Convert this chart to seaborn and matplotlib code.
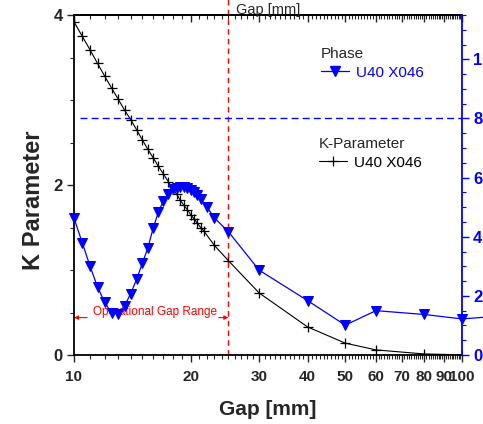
import matplotlib
matplotlib.use("Agg")
import matplotlib.pyplot as plt
import seaborn as sns
import pandas as pd
from matplotlib.lines import Line2D
from matplotlib.ticker import FixedLocator, NullFormatter

# K-parameter of U40 X046 vs gap
gap_k = [10, 10.5, 11, 11.5, 12, 12.5, 13, 13.5, 14, 14.5, 15, 15.5, 16, 16.5,
         17, 17.5, 18, 18.4, 18.8, 19.2, 19.6, 20.0, 20.4, 20.8, 21.2, 21.6,
         23, 25, 30, 40, 50, 60, 80, 100]
k_param = [3.92, 3.75, 3.59, 3.43, 3.28, 3.14, 3.01, 2.88, 2.77, 2.65, 2.53, 2.42,
           2.32, 2.22, 2.13, 2.04, 1.95, 1.89, 1.82, 1.76, 1.71, 1.65, 1.60, 1.55,
           1.50, 1.46, 1.29, 1.11, 0.73, 0.33, 0.14, 0.06, 0.012, 0.003]

# phase of U40 X046 vs gap (right axis)
gap_ph = [10, 10.5, 11, 11.5, 12, 12.5, 13, 13.5, 14, 14.5, 15, 15.5, 16, 16.5,
          17, 17.5, 18, 18.4, 18.8, 19.2, 19.6, 20.0, 20.4, 20.8, 21.2, 22,
          23, 25, 30, 40, 50, 60, 80, 100, 120]
phase = [4.63, 3.80, 3.00, 2.30, 1.78, 1.42, 1.40, 1.66, 2.08, 2.56, 3.10, 3.62,
         4.30, 4.83, 5.22, 5.45, 5.60, 5.65, 5.67, 5.67, 5.64, 5.58, 5.50, 5.40,
         5.27, 5.01, 4.64, 4.17, 2.87, 1.84, 1.01, 1.50, 1.37, 1.22, 1.30]

x_major = [10, 20, 30, 40, 50, 60, 70, 80, 90, 100]
x_minor = [v for v in range(11, 100) if v % 10]
k_ticks = [0, 2, 4]
k_minor = [0.5, 1, 1.5, 2.5, 3, 3.5]
ph_ticks = [0, 2, 4, 6, 8, 10]
ph_minor = [v / 2 for v in range(1, 24) if v % 4]

sns.set_style("ticks")
plt.rcParams["font.family"] = ["Liberation Sans", "DejaVu Sans"]

fig = plt.figure(figsize=(4.83, 4.24), dpi=100)
ax = fig.add_axes([74 / 483, 69 / 424, 388 / 483, 340 / 424])
ax2 = ax.twinx()

df_k = pd.DataFrame({"gap": gap_k, "k": k_param})
df_ph = pd.DataFrame({"gap": gap_ph, "phase": phase})

sns.lineplot(data=df_k, x="gap", y="k", ax=ax, color="black", lw=0.8,
             marker="+", markersize=7, mec="black", mew=0.9, errorbar=None)
sns.lineplot(data=df_ph, x="gap", y="phase", ax=ax2, color="blue", lw=0.9,
             marker="v", markersize=7, mec="blue", mfc="blue", errorbar=None,
             clip_on=False)

ax.set_xscale("log")
ax.set_xlim(10, 100)
ax.set_ylim(0, 4)
ax2.set_ylim(0, 11.5)

# bottom axis
ax.xaxis.set_major_locator(FixedLocator(x_major))
ax.xaxis.set_minor_locator(FixedLocator(x_minor))
ax.xaxis.set_minor_formatter(NullFormatter())
ax.set_xticks(x_major, labels=[str(v) for v in x_major], fontweight="bold", fontsize=11)
ax.tick_params(axis="x", which="major", direction="out", length=5, width=1, pad=6)
ax.tick_params(axis="x", which="minor", direction="out", length=3, width=0.8)

# top axis, ticks only
sec = ax.secondary_xaxis("top")
sec.xaxis.set_major_locator(FixedLocator(x_major))
sec.xaxis.set_minor_locator(FixedLocator(x_minor))
sec.xaxis.set_major_formatter(NullFormatter())
sec.xaxis.set_minor_formatter(NullFormatter())
sec.tick_params(which="major", direction="in", length=5, width=1)
sec.tick_params(which="minor", direction="in", length=3, width=0.8)
sec.spines["top"].set_linewidth(1.3)
sec.spines["top"].set_color("black")
fig.text(268 / 483, 1 - 14 / 424, "Gap [mm]", ha="center", va="baseline", fontsize=10.5)

# left axis
ax.set_yticks(k_ticks, labels=[str(v) for v in k_ticks], fontweight="bold", fontsize=12)
ax.yaxis.set_minor_locator(FixedLocator(k_minor))
ax.tick_params(axis="y", which="major", direction="out", length=5, width=1, pad=3)
ax.tick_params(axis="y", which="minor", direction="out", length=3, width=0.8)

# right axis
ax2.set_yticks(ph_ticks, labels=[str(v) for v in ph_ticks], fontweight="bold",
               fontsize=12, color="blue")
ax2.yaxis.set_minor_locator(FixedLocator(ph_minor))
ax2.tick_params(axis="y", which="major", direction="out", length=5, width=1, pad=3, colors="blue")
ax2.tick_params(axis="y", which="minor", direction="out", length=3, width=0.8, colors="blue")
ax2.set_ylabel("")

for s in ["left", "bottom", "top"]:
    ax.spines[s].set_color("black")
    ax.spines[s].set_linewidth(1.3)
    ax2.spines[s].set_visible(False)
ax.spines["right"].set_visible(False)
ax2.spines["right"].set_color("blue")
ax2.spines["right"].set_linewidth(1.3)

ax.set_xlabel("Gap [mm]", fontsize=15, fontweight="bold")
ax.xaxis.set_label_coords(0.5, -0.132)
ax.set_ylabel("K Parameter", fontsize=17, fontweight="bold")
ax.yaxis.set_label_coords(-0.075, 0.456)

# operational range markers
ax.axvline(25, ymin=0, ymax=1.06, color="red", lw=1, ls=(0, (4, 3)), clip_on=False)
ax2.axhline(8, xmin=0.015, xmax=1, color="blue", lw=1, ls=(0, (5, 3)))
arrow = dict(arrowstyle="-|>", color="red", lw=0.8, mutation_scale=6, shrinkA=0, shrinkB=0)
ax.annotate("", xy=(10, 0.44), xytext=(10.8, 0.44), arrowprops=arrow)
ax.annotate("", xy=(25, 0.44), xytext=(23.6, 0.44), arrowprops=arrow)
ax.text(16.2, 0.51, "Operational Gap Range", color="red", fontsize=8.5, ha="center", va="center")

# legends
h_ph = Line2D([], [], color="blue", lw=0.9, marker="v", markersize=7, mfc="blue", mec="blue")
h_k = Line2D([], [], color="black", lw=0.8, marker="+", markersize=7, mec="black", mew=0.9)
leg1 = ax2.legend([h_ph], ["U40 X046"], title="Phase", loc="upper left",
                  bbox_to_anchor=(321 / 483, 1 - 47 / 424), bbox_transform=fig.transFigure,
                  frameon=False, fontsize=11, title_fontsize=11, labelcolor="blue",
                  alignment="left", handlelength=1.8, handletextpad=0.5,
                  labelspacing=0.3, borderpad=0, borderaxespad=0)
ax2.add_artist(leg1)
ax2.legend([h_k], ["U40 X046"], title="K-Parameter", loc="upper left",
           bbox_to_anchor=(319 / 483, 1 - 137 / 424), bbox_transform=fig.transFigure,
           frameon=False, fontsize=11, title_fontsize=11, labelcolor="black",
           alignment="left", handlelength=1.8, handletextpad=0.5,
           labelspacing=0.3, borderpad=0, borderaxespad=0)

fig.savefig("out.png", dpi=100)
